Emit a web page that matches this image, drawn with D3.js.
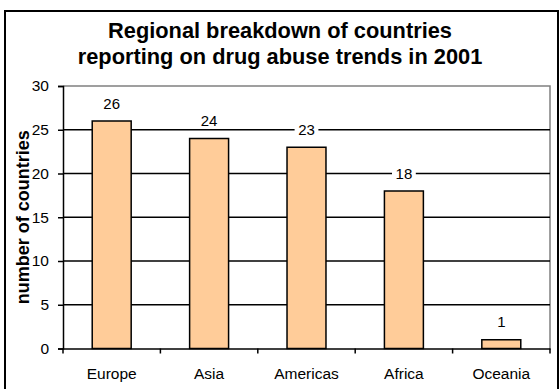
<!DOCTYPE html>
<html>
<head>
<meta charset="utf-8">
<script src="https://cdn.jsdelivr.net/npm/d3@7"></script>
<style>
  html, body { margin: 0; padding: 0; background: #fff; }
  svg { display: block; font-family: "Liberation Sans", Arial, sans-serif; }
</style>
</head>
<body>
<svg id="chart" width="560" height="389"></svg>
<script>
const categories = ["Europe", "Asia", "Americas", "Africa", "Oceania"];
const values = [26, 24, 23, 18, 1];
const yTicks = [0, 5, 10, 15, 20, 25, 30];
const titleLines = ["Regional breakdown of countries", "reporting on drug abuse trends in 2001"];
const yTitle = "number of countries";

(function () {
const svg = d3.select("#chart");
const pLeft = 63, pRight = 550, pTop = 86, pBottom = 348.5;
const FONT = "Liberation Sans, Arial, sans-serif";

// outer frame
svg.append("rect").attr("x", 5).attr("y", 11).attr("width", 553).attr("height", 392)
  .attr("fill", "none").attr("stroke", "#000").attr("stroke-width", 2);

const x = d3.scaleBand().domain(categories).range([pLeft, pRight]).paddingInner(0.6).paddingOuter(0.3);
const y = d3.scaleLinear().domain([0, 30]).range([pBottom, pTop]);

// plot border (top/right gray)
svg.append("path")
  .attr("d", `M${pLeft},${pTop}H${pRight}V${pBottom}`)
  .attr("fill", "none").attr("stroke", "#808080").attr("stroke-width", 1.5);

// gridlines
svg.append("g").selectAll("line").data(yTicks.filter(t => t > 0 && t < 30)).join("line")
  .attr("x1", pLeft).attr("x2", pRight)
  .attr("y1", d => y(d)).attr("y2", d => y(d))
  .attr("stroke", "#000").attr("stroke-width", 1.6);

// bars
svg.append("g").selectAll("rect").data(values).join("rect")
  .attr("x", (d, i) => x(categories[i]))
  .attr("width", x.bandwidth())
  .attr("y", d => y(d))
  .attr("height", d => y(0) - y(d))
  .attr("fill", "#FFCC99").attr("stroke", "#000").attr("stroke-width", 1.5);

// value labels with white background
const vl = svg.append("g").selectAll("g").data(values).join("g")
  .attr("transform", (d, i) => `translate(${x(categories[i]) + x.bandwidth() / 2},${y(d) - 12.5})`);
vl.append("rect").attr("x", d => -(String(d).length * 4.2 + 3.5)).attr("y", -12)
  .attr("width", d => String(d).length * 8.4 + 7).attr("height", 15).attr("fill", "#fff");
vl.append("text").attr("text-anchor", "middle").attr("font-size", 15).attr("fill", "#000")
  .attr("font-family", FONT).text(d => d);

// y axis
const yAxis = svg.append("g").attr("transform", `translate(${pLeft},0)`)
  .call(d3.axisLeft(y).tickValues(yTicks).tickSize(5).tickPadding(9).tickFormat(d3.format("d")));
yAxis.select(".domain").attr("stroke", "#000").attr("stroke-width", 1.5);
yAxis.selectAll(".tick line").attr("stroke", "#000").attr("stroke-width", 1.5);
yAxis.selectAll("text").attr("font-size", 15.5).attr("fill", "#000").attr("font-family", FONT);

// x axis
const xAxis = svg.append("g").attr("transform", `translate(0,${pBottom})`)
  .call(d3.axisBottom(x).tickSize(0).tickPadding(19));
xAxis.select(".domain").attr("stroke", "#000").attr("stroke-width", 1.5);
xAxis.selectAll("text").attr("font-size", 15.5).attr("fill", "#000").attr("font-family", FONT);
// category separator ticks
const bounds = d3.range(categories.length + 1).map(i => pLeft + i * (pRight - pLeft) / categories.length);
svg.append("g").selectAll("line").data(bounds).join("line")
  .attr("x1", d => d).attr("x2", d => d).attr("y1", pBottom).attr("y2", pBottom + 5)
  .attr("stroke", "#000").attr("stroke-width", 1.5);

// title
svg.append("g").selectAll("text").data(titleLines).join("text")
  .attr("x", 280).attr("y", (d, i) => 38 + i * 26)
  .attr("text-anchor", "middle").attr("font-size", 21.8).attr("font-weight", "bold").attr("fill", "#000")
  .attr("font-family", FONT)
  .text(d => d);

// y title
svg.append("text")
  .attr("transform", `translate(28.5,${(pTop + pBottom) / 2}) rotate(-90)`)
  .attr("text-anchor", "middle").attr("font-size", 18).attr("font-weight", "bold").attr("fill", "#000")
  .attr("font-family", FONT)
  .text(yTitle);
})();
</script>
</body>
</html>
